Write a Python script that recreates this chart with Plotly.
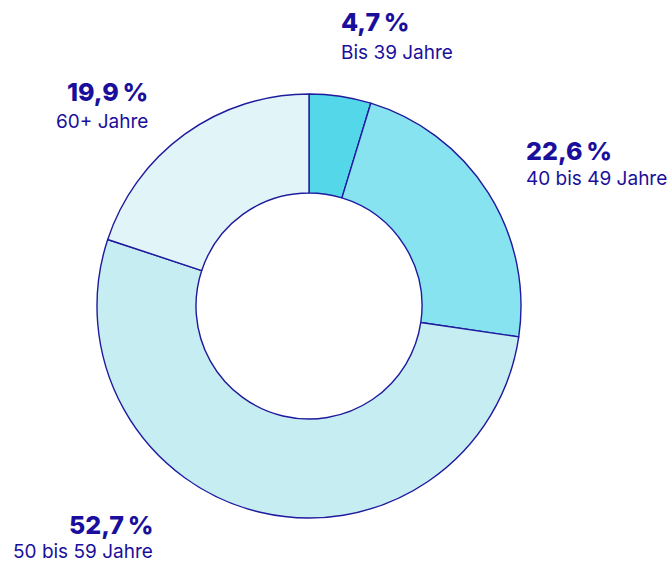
import plotly.graph_objects as go

categories = ["Bis 39 Jahre", "40 bis 49 Jahre", "50 bis 59 Jahre", "60+ Jahre"]
values = [4.7, 22.6, 52.7, 19.9]
percent_labels = ["4,7\u2009%", "22,6\u2009%", "52,7\u2009%", "19,9\u2009%"]
colors = ["#55d7ea", "#87e3f0", "#c6edf1", "#e1f5f8"]

W, H = 672, 562
TEXT = "#1a0f9c"
LINE = "#1f1a9e"
FONT = "Inter"

fig = go.Figure(go.Pie(
    labels=categories,
    values=values,
    hole=0.533,
    sort=False,
    direction="clockwise",
    rotation=0,
    marker=dict(colors=colors, line=dict(color=LINE, width=1.4)),
    textinfo="none",
    hoverinfo="label+percent",
    showlegend=False,
    domain=dict(x=[(309 - 212) / W, (309 + 212) / W], y=[(562 - 518) / H, (562 - 94) / H]),
))

# label placement: (x, anchor, percent center y, category center y) in pixels
label_pos = [
    (339, "left", 22, 52),
    (524, "left", 151, 178),
    (155, "right", 525, 551),
    (150, "right", 92, 121),
]

annotations = []
for (px, anchor, py1, py2), pct, cat in zip(label_pos, percent_labels, categories):
    annotations.append(dict(
        x=px / W, y=1 - py1 / H, xref="paper", yref="paper",
        xanchor=anchor, yanchor="middle", showarrow=False,
        text=pct,
        font=dict(family=FONT, size=25, color=TEXT, weight=800),
    ))
    annotations.append(dict(
        x=px / W, y=1 - py2 / H, xref="paper", yref="paper",
        xanchor=anchor, yanchor="middle", showarrow=False,
        text=cat,
        font=dict(family=FONT, size=19, color=TEXT),
    ))

fig.update_layout(
    width=W, height=H,
    margin=dict(l=0, r=0, t=0, b=0),
    paper_bgcolor="white",
    plot_bgcolor="white",
    annotations=annotations,
)

fig.write_html("out.html", config={"displayModeBar": False},
               post_script="document.body.style.margin='0';")
